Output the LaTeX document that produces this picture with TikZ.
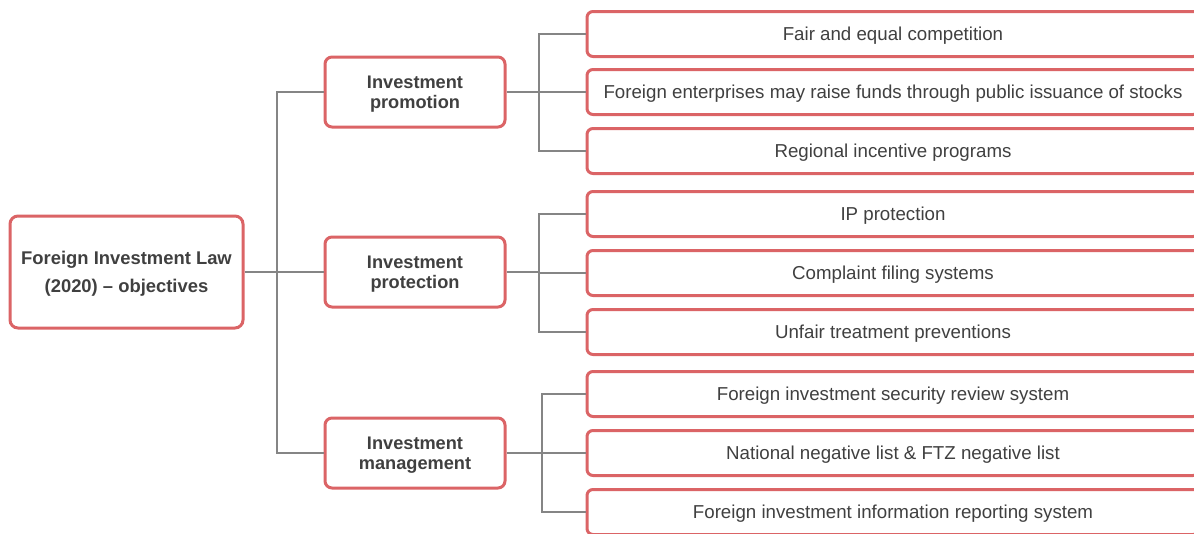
\documentclass[tikz,border=0pt]{standalone}
\usepackage{fontspec}
\setmainfont{Liberation Sans}
\definecolor{boxred}{HTML}{DB6466}
\definecolor{linegray}{HTML}{858585}
\definecolor{txt}{HTML}{404040}
\begin{document}
\begin{tikzpicture}[x=1pt,y=-1pt,
  boxbase/.style={draw=boxred, line width=3pt, fill=white, inner sep=0pt},
  rootbox/.style={boxbase, rounded corners=8pt, minimum width=233pt, minimum height=112pt},
  midbox/.style={boxbase, rounded corners=7pt, minimum width=180pt, minimum height=70pt},
  leafbox/.style={boxbase, rounded corners=6pt, minimum width=612pt, minimum height=45pt},
  rootlbl/.style={text=txt, align=center, yshift=-2pt, inner sep=0pt,
     font=\fontsize{18.4}{28}\selectfont\bfseries},
  midlbl/.style={text=txt, align=center, yshift=-2pt, inner sep=0pt,
     font=\fontsize{18.2}{20}\selectfont\bfseries},
  leaflbl/.style={text=txt, align=center, yshift=-2pt, inner sep=0pt,
     font=\fontsize{18.7}{20}\selectfont},
  conn/.style={draw=linegray, line width=2pt}
]
\useasboundingbox (0,0) rectangle (1194,533);
\clip (0,0) rectangle (1194,533);

\node[rootbox, label={[rootlbl]center:{Foreign Investment Law\\(2020) -- objectives}}] (root) at (126.5,272) {};
\node[midbox, label={[midlbl]center:{Investment\\promotion}}] (m1) at (415,92) {};
\node[midbox, label={[midlbl]center:{Investment\\protection}}] (m2) at (415,272) {};
\node[midbox, label={[midlbl]center:{Investment\\management}}] (m3) at (415,453) {};

\node[leafbox, label={[leaflbl]center:Fair and equal competition}] (l1) at (893,34) {};
\node[leafbox, label={[leaflbl]center:Foreign enterprises may raise funds through public issuance of stocks}] (l2) at (893,92) {};
\node[leafbox, label={[leaflbl]center:Regional incentive programs}] (l3) at (893,151) {};
\node[leafbox, label={[leaflbl]center:IP protection}] (l4) at (893,214) {};
\node[leafbox, label={[leaflbl]center:Complaint filing systems}] (l5) at (893,273) {};
\node[leafbox, label={[leaflbl]center:Unfair treatment preventions}] (l6) at (893,332) {};
\node[leafbox, label={[leaflbl]center:Foreign investment security review system}] (l7) at (893,394) {};
\node[leafbox, label={[leaflbl]center:National negative list \& FTZ negative list}] (l8) at (893,453) {};
\node[leafbox, label={[leaflbl]center:Foreign investment information reporting system}] (l9) at (893,512) {};

\coordinate (t) at (277,272);
\coordinate (b1) at (539,92);
\coordinate (b2) at (539,272);
\coordinate (b3) at (542,453);

\draw[conn] (root.east) -- (t);
\draw[conn] (t) |- (m1.west);
\draw[conn] (t) -- (m2.west);
\draw[conn] (t) |- (m3.west);
\draw[conn] (m1.east) -- (b1);
\draw[conn] (m2.east) -- (b2);
\draw[conn] (m3.east) -- (b3);
\draw[conn] (b1) |- (l1.west);
\draw[conn] (b1) -- (l2.west);
\draw[conn] (b1) |- (l3.west);
\draw[conn] (b2) |- (l4.west);
\draw[conn] (b2) |- (l5.west);
\draw[conn] (b2) |- (l6.west);
\draw[conn] (b3) |- (l7.west);
\draw[conn] (b3) -- (l8.west);
\draw[conn] (b3) |- (l9.west);
\end{tikzpicture}
\end{document}
